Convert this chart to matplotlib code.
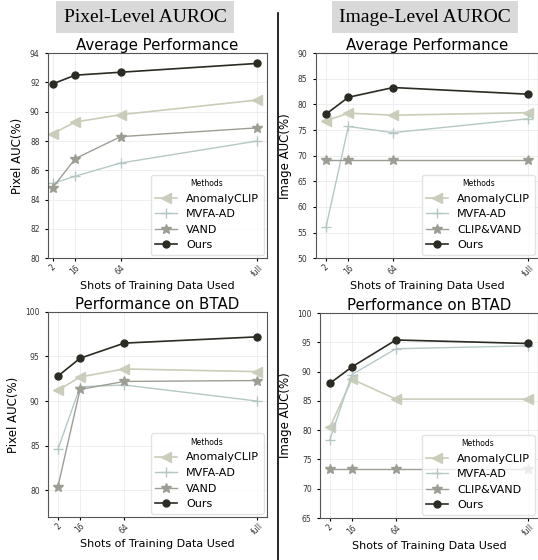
import matplotlib
matplotlib.use("Agg")
import matplotlib.pyplot as plt
from matplotlib.lines import Line2D

# x-axis: shots of training data
shots = ["2", "16", "64", "full"]
shot_pos = [1, 2, 4, 10]

# pixel-level AUROC
pix_avg_anomalyclip = [88.5, 89.3, 89.8, 90.8]
pix_avg_mvfa = [85.1, 85.6, 86.5, 88.0]
pix_avg_vand = [84.8, 86.8, 88.3, 88.9]
pix_avg_ours = [91.9, 92.5, 92.7, 93.3]

pix_btad_anomalyclip = [91.2, 92.7, 93.6, 93.3]
pix_btad_mvfa = [84.6, 91.6, 91.8, 90.0]
pix_btad_vand = [80.4, 91.3, 92.2, 92.3]
pix_btad_ours = [92.8, 94.8, 96.5, 97.2]

# image-level AUROC
img_avg_anomalyclip = [76.8, 78.3, 77.9, 78.4]
img_avg_mvfa = [56.0, 75.7, 74.5, 77.2]
img_avg_vand = [69.2, 69.2, 69.2, 69.2]
img_avg_ours = [78.1, 81.4, 83.3, 82.0]

img_btad_anomalyclip = [80.5, 88.7, 85.3, 85.3]
img_btad_mvfa = [78.4, 89.5, 93.9, 94.4]
img_btad_vand = [73.3, 73.3, 73.3, 73.3]
img_btad_ours = [88.0, 90.8, 95.4, 94.8]

c_anom = "#c9cdb9"
c_mvfa = "#b5c8c6"
c_vand = "#9e9d94"
c_ours = "#2b2b24"

fig = plt.figure(figsize=(5.38, 5.60), dpi=100)

ax_tl = fig.add_axes([0.0892, 0.539, 0.407, 0.366])
ax_tr = fig.add_axes([0.587, 0.539, 0.413, 0.366])
ax_bl = fig.add_axes([0.0892, 0.077, 0.407, 0.366])
ax_br = fig.add_axes([0.5948, 0.075, 0.405, 0.366])


def draw(ax, anom, mvfa, vand, ours, vand_name, title, ylabel, ylim, yticks, xlim=None):
    ax.plot(shot_pos, anom, color=c_anom, marker="<", markersize=7, lw=1.2, label="AnomalyCLIP")
    ax.plot(shot_pos, mvfa, color=c_mvfa, marker="+", markersize=7, lw=1.0, label="MVFA-AD")
    ax.plot(shot_pos, vand, color=c_vand, marker="*", markersize=7, lw=1.0, label=vand_name)
    ax.plot(shot_pos, ours, color=c_ours, marker="o", markersize=5, lw=1.2, label="Ours")
    ax.set_title(title, fontsize=10.8, pad=2)
    ax.set_ylabel(ylabel, fontsize=8.5, labelpad=4)
    ax.set_xlabel("Shots of Training Data Used", fontsize=8, labelpad=2)
    ax.set_xticks(shot_pos)
    ax.set_xticklabels(shots, rotation=45, fontsize=5.5, color="#333333")
    ax.set_ylim(*ylim)
    ax.set_yticks(yticks)
    ax.tick_params(axis="y", labelsize=5.5, labelcolor="#333333", length=2.5, pad=3.5)
    ax.tick_params(axis="x", length=2.5, pad=1)
    if xlim:
        ax.set_xlim(*xlim)
    ax.grid(True, color="#ebebeb", lw=0.6)
    for s in ax.spines.values():
        s.set_color("#555555")
        s.set_linewidth(0.8)
    leg = ax.legend(title="Methods", loc="lower right", fontsize=8, title_fontsize=5.5,
                    borderaxespad=0.3, handlelength=2.0)
    leg.get_frame().set_edgecolor("#dddddd")


draw(ax_tl, pix_avg_anomalyclip, pix_avg_mvfa, pix_avg_vand, pix_avg_ours, "VAND",
     "Average Performance", "Pixel AUC(%)", (80, 94), range(80, 95, 2), xlim=(0.8, 10.44))
draw(ax_tr, img_avg_anomalyclip, img_avg_mvfa, img_avg_vand, img_avg_ours, "CLIP&VAND",
     "Average Performance", "Image AUC(%)", (50, 90), range(50, 91, 5))
draw(ax_bl, pix_btad_anomalyclip, pix_btad_mvfa, pix_btad_vand, pix_btad_ours, "VAND",
     "Performance on BTAD", "Pixel AUC(%)", (77, 100), range(80, 101, 5))
draw(ax_br, img_btad_anomalyclip, img_btad_mvfa, img_btad_vand, img_btad_ours, "CLIP&VAND",
     "Performance on BTAD", "Image AUC(%)", (65, 100), range(65, 101, 5))

# headers
box = dict(boxstyle="square,pad=0.38", facecolor="#d9d9d9", edgecolor="none")
fig.text(145 / 538, 1 - 17 / 560, "Pixel-Level AUROC", family="Liberation Serif",
         fontsize=14, ha="center", va="center", bbox=box)
fig.text(425 / 538, 1 - 17 / 560, "Image-Level AUROC", family="Liberation Serif",
         fontsize=14, ha="center", va="center", bbox=box)

# divider
fig.add_artist(Line2D([278 / 538, 278 / 538], [0, 1 - 13 / 560], color="black", lw=1.2))

fig.savefig("out.png", dpi=100)
